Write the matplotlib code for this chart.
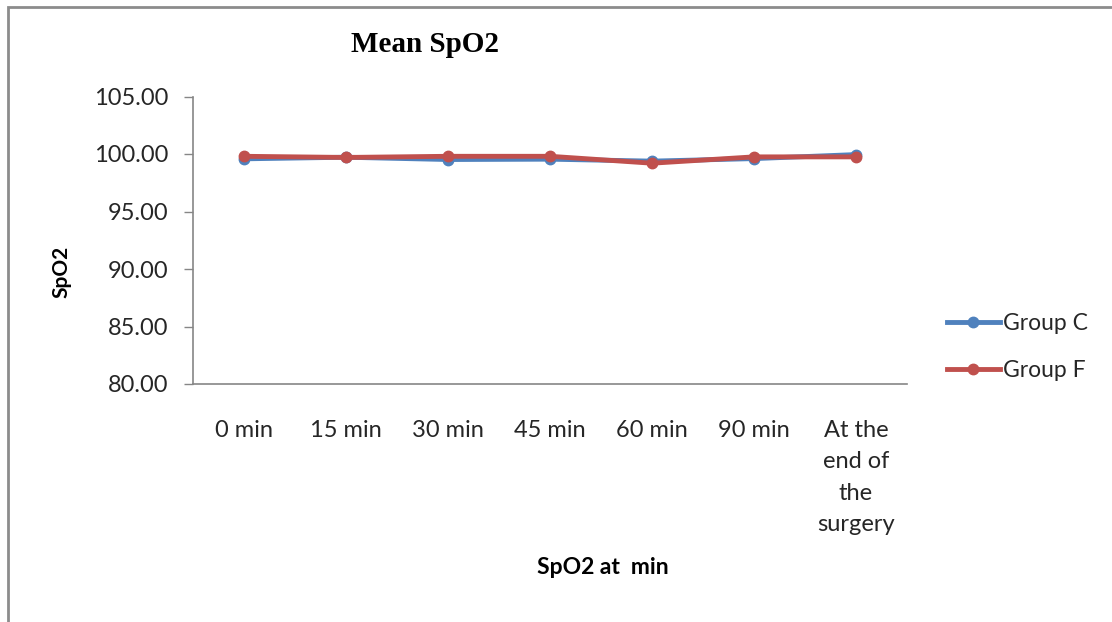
import matplotlib
matplotlib.use("Agg")
import matplotlib.pyplot as plt
from matplotlib.patches import Rectangle

# data
categories = ["0 min", "15 min", "30 min", "45 min", "60 min", "90 min",
              "At the\nend of\nthe\nsurgery"]
group_c = [99.58, 99.72, 99.52, 99.55, 99.38, 99.60, 99.95]
group_f = [99.80, 99.70, 99.80, 99.80, 99.20, 99.75, 99.75]
yticks = [80, 85, 90, 95, 100, 105]

plt.rcParams['font.family'] = ['Lato', 'DejaVu Sans']

fig = plt.figure(figsize=(11.12, 6.22), dpi=100)
ax = fig.add_axes([193/1112, 1-384/622, (907-193)/1112, (384-96.5)/622])

x = range(len(categories))
ax.plot(x, group_c, color="#4F81BD", lw=3.5, marker="o", ms=7.5, label="Group C")
ax.plot(x, group_f, color="#C0504D", lw=3.5, marker="o", ms=7.5, label="Group F")

ax.set_xlim(-0.5, len(categories) - 0.5)
ax.set_ylim(80, 105)
ax.set_yticks(yticks)
ax.set_yticklabels(["%.2f" % v for v in yticks])
ax.set_xticks(list(x))
ax.set_xticklabels(categories, linespacing=1.6)

ax.tick_params(axis="y", length=6.5, width=1, color="#868686", pad=11,
               labelsize=17, labelcolor="#262626")
ax.tick_params(axis="x", length=0, pad=26, labelsize=17, labelcolor="#262626")

for s in ["top", "right"]:
    ax.spines[s].set_visible(False)
for s in ["left", "bottom"]:
    ax.spines[s].set_color("#868686")
    ax.spines[s].set_linewidth(1.2)

# titles
fig.text(425/1112, 1-45/622, "Mean SpO2", family="Liberation Serif",
         fontweight="bold", fontsize=21, ha="center", va="center")
fig.text(61/1112, 1-272/622, "SpO2", fontweight="bold", fontsize=15,
         rotation=90, ha="center", va="center")
fig.text(603/1112, 1-568/622, "SpO2 at  min", fontweight="bold", fontsize=16.5,
         ha="center", va="center")

leg = ax.legend(loc="center left", bbox_to_anchor=(947/1112, 1-347/622),
                bbox_transform=fig.transFigure, frameon=False, fontsize=16.5,
                handlelength=2.3, handletextpad=0.15, labelspacing=1.15,
                borderpad=0, borderaxespad=0)
for t in leg.get_texts():
    t.set_color("#262626")

# outer chart frame (runs off the right and bottom)
fig.patches.append(Rectangle((8/1112, -0.2), 1.2, 1.2 - 7/622,
                             transform=fig.transFigure, fill=False,
                             edgecolor="#8c8c8c", lw=2))

fig.savefig("out.png", dpi=100)
